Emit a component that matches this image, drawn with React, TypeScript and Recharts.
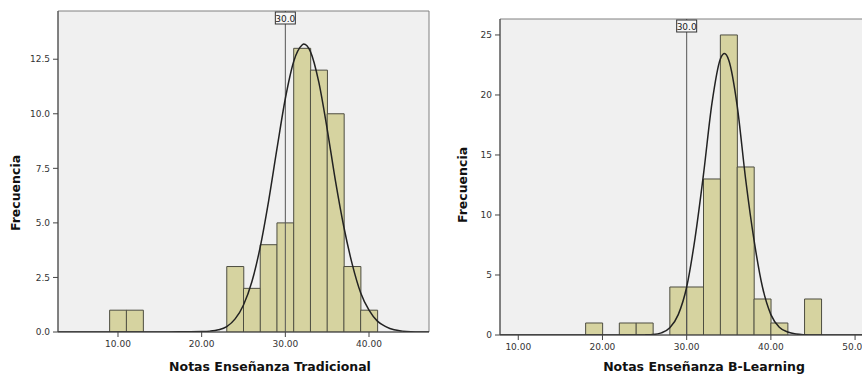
import React from "react";
import {
  ComposedChart,
  Bar,
  Line,
  XAxis,
  YAxis,
  ReferenceLine,
  ReferenceArea,
  CartesianGrid,
} from "recharts";

// Notas Enseñanza Tradicional (bins of width 2, centres)
const tradBins = [10, 12, 24, 26, 28, 30, 32, 34, 36, 38, 40];
const tradCounts = [1, 1, 3, 2, 4, 5, 13, 12, 10, 3, 1];
const tradCurveX = [
  2.83, 14, 16, 18, 20, 21, 22, 23, 24, 25, 26, 27, 28, 29, 30, 31, 32, 32.2,
  33, 34, 35, 36, 37, 38, 39, 40, 41, 42, 43, 44, 45, 46, 47.17,
];
const tradCurveY = [
  0, 0, 0, 0.01, 0.02, 0.04, 0.1, 0.25, 0.6, 1.24, 2.3, 3.9, 6.0, 8.4, 10.7,
  12.4, 13.15, 13.2, 12.85, 11.45, 9.3, 6.9, 4.8, 3.1, 1.8, 1.0, 0.5, 0.25,
  0.1, 0.04, 0.01, 0, 0,
];
const tradXTicks = [10, 20, 30, 40];
const tradYTicks = [0, 2.5, 5, 7.5, 10, 12.5];

// Notas Enseñanza B-Learning
const blendBins = [19, 23, 25, 29, 31, 33, 35, 37, 39, 41, 45];
const blendCounts = [1, 1, 1, 4, 4, 13, 25, 14, 3, 1, 3];
const blendCurveX = [
  7.83, 20, 24, 25, 26, 27, 28, 29, 30, 31, 32, 33, 34, 34.5, 35, 36, 37, 38,
  39, 40, 41, 42, 43, 44, 45, 47, 52.96,
];
const blendCurveY = [
  0, 0, 0, 0.01, 0.04, 0.18, 0.6, 1.7, 4.0, 8.1, 13.4, 19.3, 23.0, 23.45, 22.9,
  19.1, 13.0, 7.9, 4.0, 1.7, 0.65, 0.25, 0.08, 0.02, 0, 0, 0,
];
const blendXTicks = [10, 20, 30, 40, 50];
const blendYTicks = [0, 5, 10, 15, 20, 25];

const refValue = 30;

const AxisTitle = ({ px, py, text, rotate }: any) => (
  <text
    x={px}
    y={py}
    textAnchor="middle"
    fontSize={12.5}
    fontWeight="bold"
    fill="#111"
    transform={rotate ? `rotate(-90, ${px}, ${py})` : undefined}
  >
    {text}
  </text>
);

const RefLabel = ({ viewBox }: any) => {
  if (!viewBox) return null;
  const { x, y } = viewBox;
  return (
    <g>
      <rect x={x - 10} y={y + 1} width={20} height={12} fill="#f7f7f7" stroke="#333" />
      <text x={x} y={y + 10.5} textAnchor="middle" fontSize={9} fill="#222">
        {refValue.toFixed(1)}
      </text>
    </g>
  );
};

interface HistProps {
  width: number;
  height: number;
  margin: { top: number; right: number; bottom: number; left: number };
  yAxisWidth: number;
  xAxisHeight: number;
  xDomain: [number, number];
  yMax: number;
  bins: number[];
  counts: number[];
  curveX: number[];
  curveY: number[];
  xTicks: number[];
  yTicks: number[];
  yFmt: (v: number) => string;
  xTitle: string;
  xTitlePos: [number, number];
  yTitlePos: [number, number];
}

function Histogram(p: HistProps) {
  const data = p.bins.map((x, i) => ({ x, count: p.counts[i] }));
  const curve = p.curveX.map((x, i) => ({ x, y: p.curveY[i] }));
  const axisStyle = { stroke: "#444" };
  const tickStyle = { fontSize: 9, fill: "#333" };
  return (
    <ComposedChart
      width={p.width}
      height={p.height}
      data={data}
      margin={p.margin}
      barCategoryGap={0}
      barGap={0}
    >
      <CartesianGrid fill="#f0f0f0" horizontal={false} vertical={false} />
      <ReferenceArea
        xAxisId="bars"
        x1={p.xDomain[0]}
        x2={p.xDomain[1]}
        y1={0}
        y2={p.yMax}
        fill="none"
        stroke="#808080"
        ifOverflow="extendDomain"
      />
      <XAxis
        xAxisId="bars"
        type="number"
        dataKey="x"
        domain={p.xDomain}
        allowDataOverflow
        ticks={p.xTicks}
        tickFormatter={(v: number) => v.toFixed(2)}
        tick={tickStyle}
        axisLine={axisStyle}
        tickLine={axisStyle}
        tickSize={5}
        tickMargin={4}
        height={p.xAxisHeight}
        label={<AxisTitle px={p.xTitlePos[0]} py={p.xTitlePos[1]} text={p.xTitle} />}
      />
      <XAxis
        xAxisId="curve"
        type="number"
        dataKey="x"
        domain={p.xDomain}
        allowDataOverflow
        hide
      />
      <YAxis
        type="number"
        domain={[0, p.yMax]}
        allowDataOverflow
        ticks={p.yTicks}
        tickFormatter={p.yFmt}
        tick={tickStyle}
        axisLine={axisStyle}
        tickLine={axisStyle}
        tickSize={5}
        tickMargin={3}
        width={p.yAxisWidth}
        label={
          <AxisTitle px={p.yTitlePos[0]} py={p.yTitlePos[1]} text="Frecuencia" rotate />
        }
      />
      <Bar
        xAxisId="bars"
        dataKey="count"
        fill="#d6d3a0"
        stroke="#4d4d40"
        strokeWidth={1}
        isAnimationActive={false}
      />
      <ReferenceLine
        xAxisId="bars"
        x={refValue}
        stroke="#555"
        strokeWidth={1}
        label={<RefLabel />}
      />
      <Line
        xAxisId="curve"
        data={curve}
        dataKey="y"
        type="monotone"
        stroke="#222"
        strokeWidth={1.5}
        dot={false}
        activeDot={false}
        isAnimationActive={false}
      />
    </ComposedChart>
  );
}

export default function App() {
  return (
    <div
      style={{
        position: "absolute",
        left: 0,
        top: 0,
        width: 862,
        height: 374,
        overflow: "hidden",
        background: "#fff",
        fontFamily: "'DejaVu Sans', Verdana, sans-serif",
      }}
    >
      <div style={{ position: "absolute", left: 0, top: 0 }}>
        <Histogram
          width={431}
          height={374}
          margin={{ top: 11, right: 2, bottom: 0, left: 0 }}
          yAxisWidth={58}
          xAxisHeight={42}
          xDomain={[2.83, 47.17]}
          yMax={14.71}
          bins={tradBins}
          counts={tradCounts}
          curveX={tradCurveX}
          curveY={tradCurveY}
          xTicks={tradXTicks}
          yTicks={tradYTicks}
          yFmt={(v) => v.toFixed(1)}
          xTitle="Notas Enseñanza Tradicional"
          xTitlePos={[270, 371]}
          yTitlePos={[20, 193]}
        />
      </div>
      <div style={{ position: "absolute", left: 431, top: 0 }}>
        <Histogram
          width={460}
          height={374}
          margin={{ top: 19, right: 11, bottom: 0, left: 0 }}
          yAxisWidth={69}
          xAxisHeight={39}
          xDomain={[7.83, 52.96]}
          yMax={26.33}
          bins={blendBins}
          counts={blendCounts}
          curveX={blendCurveX}
          curveY={blendCurveY}
          xTicks={blendXTicks}
          yTicks={blendYTicks}
          yFmt={(v) => String(v)}
          xTitle="Notas Enseñanza B-Learning"
          xTitlePos={[273, 371]}
          yTitlePos={[36, 185]}
        />
      </div>
    </div>
  );
}
